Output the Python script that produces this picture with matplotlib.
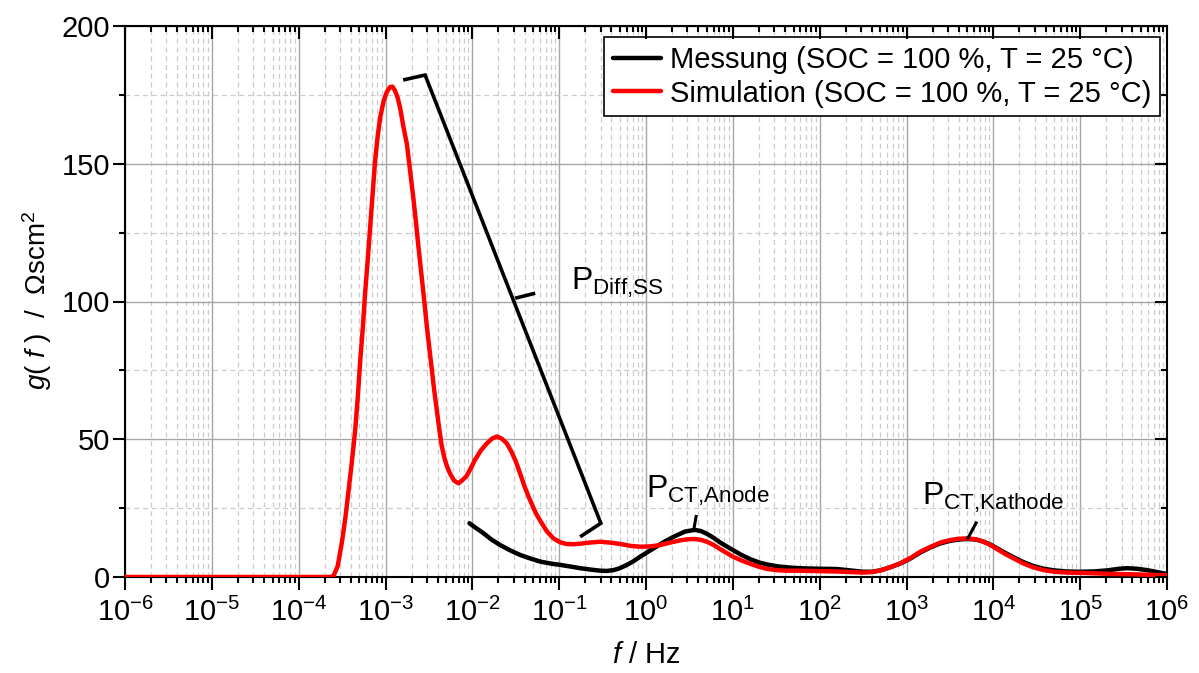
import numpy as np
import matplotlib
matplotlib.use('Agg')
import matplotlib.pyplot as plt
from matplotlib.ticker import LogLocator, MultipleLocator, NullFormatter, LogFormatterMathtext

# ---------------- data ----------------
# frequencies are given as log10(f / Hz)
sim_log_f = [-6.0, -4.5, -3.65, -3.60, -3.55, -3.50, -3.46, -3.43, -3.39, -3.35,
             -3.32, -3.29, -3.26, -3.235, -3.205, -3.177, -3.15, -3.12, -3.09, -3.06,
             -3.02, -2.985, -2.95, -2.92, -2.89, -2.86, -2.83, -2.794, -2.753, -2.717,
             -2.679, -2.65, -2.621, -2.59, -2.563, -2.524, -2.495, -2.467, -2.44, -2.409,
             -2.38, -2.352, -2.32, -2.29, -2.256, -2.21, -2.16, -2.12, -2.07, -2.025,
             -1.97, -1.90, -1.833, -1.77, -1.718, -1.66, -1.603, -1.55, -1.50, -1.449,
             -1.40, -1.35, -1.295, -1.257, -1.20, -1.14, -1.065, -0.988, -0.92, -0.834,
             -0.75, -0.65, -0.528, -0.42, -0.297, -0.18, -0.066, 0.05, 0.164, 0.28,
             0.394, 0.48, 0.56, 0.63, 0.70, 0.78, 0.85, 0.93, 1.0, 1.1,
             1.2, 1.3, 1.4, 1.5, 1.6, 1.75, 1.9, 2.05, 2.2, 2.35,
             2.5, 2.6, 2.7, 2.8, 2.93, 3.05, 3.16, 3.28, 3.39, 3.5,
             3.6, 3.70, 3.8, 3.88, 3.965, 4.05, 4.14, 4.23, 4.34, 4.46,
             4.58, 4.70, 4.85, 5.0, 5.2, 5.38, 5.6, 5.8, 6.0]
sim_g = [0, 0, 0, 0.3, 4, 13, 22, 30, 41, 53,
         65, 79, 91, 103, 115, 127, 139, 151, 160, 167,
         173, 176, 177.8, 178, 176.5, 174, 170, 163.5, 157, 147.5,
         137.5, 129, 120, 111, 103, 91, 83, 75, 68, 60.5,
         53.5, 47.5, 43, 40, 37.5, 35, 34, 35, 36.5, 39,
         42.5, 46, 48.5, 50.3, 51, 50.2, 48.5, 45.5, 42, 37.5,
         33, 29, 25, 22.5, 19.5, 16.5, 14, 12.6, 12, 11.9,
         12.1, 12.5, 12.8, 12.5, 12.0, 11.3, 11.0, 11.1, 11.6, 12.5,
         13.3, 13.7, 13.8, 13.5, 12.8, 11.6, 10.2, 8.7, 7.4, 6.0,
         4.8, 3.7, 2.9, 2.5, 2.3, 2.3, 2.2, 2.1, 2.0, 1.8,
         1.6, 1.8, 2.4, 3.4, 5.0, 7.0, 9.2, 11.0, 12.5, 13.4,
         13.9, 14.0, 13.7, 12.9, 11.6, 10.0, 8.3, 6.8, 5.0, 3.5,
         2.5, 1.9, 1.6, 1.5, 1.3, 1.1, 1.0, 0.8, 0.6]

meas_log_f = [-2.033, -1.95, -1.872, -1.78, -1.68, -1.56, -1.449, -1.33, -1.219, -1.10,
              -0.988, -0.87, -0.758, -0.64, -0.528, -0.45, -0.374, -0.30, -0.22, -0.14,
              -0.066, 0.01, 0.088, 0.2, 0.318, 0.45, 0.56, 0.63, 0.70, 0.78,
              0.85, 0.93, 1.0, 1.1, 1.2, 1.3, 1.4, 1.53, 1.7, 1.85,
              2.0, 2.2, 2.35, 2.5, 2.6, 2.7, 2.8, 2.93, 3.05, 3.16,
              3.28, 3.39, 3.5, 3.6, 3.70, 3.8, 3.88, 3.965, 4.05, 4.14,
              4.23, 4.34, 4.46, 4.58, 4.70, 4.85, 5.0, 5.15, 5.31, 5.45,
              5.54, 5.65, 5.77, 5.9, 6.0]
meas_g = [19.5, 17.6, 15.9, 13.6, 11.6, 9.6, 8.0, 6.7, 5.6, 4.9,
          4.4, 3.8, 3.2, 2.7, 2.3, 2.2, 2.5, 3.2, 4.4, 5.8,
          7.4, 8.9, 10.4, 12.6, 14.6, 16.5, 17.1, 16.7, 15.7, 14.2,
          12.6, 11.1, 9.8, 8.0, 6.5, 5.3, 4.5, 3.8, 3.3, 3.1,
          3.0, 2.9, 2.4, 1.9, 1.9, 2.4, 3.4, 4.9, 6.8, 8.9,
          10.8, 12.2, 13.1, 13.6, 13.8, 13.6, 12.9, 11.8, 10.3, 8.7,
          7.2, 5.5, 4.0, 3.0, 2.4, 2.0, 1.9, 2.0, 2.4, 3.0,
          3.2, 3.0, 2.5, 1.7, 1.1]

legend_labels = ['Messung (SOC = 100 %, T = 25 °C)',
                 'Simulation (SOC = 100 %, T = 25 °C)']

# annotation geometry (log10 f, g)
bracket_log_f = [-2.797, -2.544, -0.52, -0.758]
bracket_g = [180.4, 182.2, 19.5, 14.6]
brace_tip_log_f = [-1.507, -1.276]
brace_tip_g = [101.2, 103.0]
anode_ptr_log_f = [0.58, 0.55]
anode_ptr_g = [22.5, 17.1]
kath_ptr_log_f = [3.81, 3.70]
kath_ptr_g = [20.1, 13.7]
peak_labels = [r'P$_{\mathrm{Diff{,}SS}}$', r'P$_{\mathrm{CT{,}Anode}}$',
               r'P$_{\mathrm{CT{,}Kathode}}$']
peak_label_log_f = [-0.862, 0.0, 3.18]
peak_label_g = [104.2, 28.7, 26.1]

# ---------------- style ----------------
plt.rcParams['font.family'] = ['Liberation Sans', 'DejaVu Sans']
plt.rcParams['mathtext.fontset'] = 'custom'
plt.rcParams['mathtext.rm'] = 'Liberation Sans'
plt.rcParams['mathtext.it'] = 'Liberation Sans:italic'
plt.rcParams['mathtext.bf'] = 'Liberation Sans:bold'
plt.rcParams['mathtext.sf'] = 'Liberation Sans'
plt.rcParams['axes.unicode_minus'] = True

FS = 21

fig = plt.figure(figsize=(11.99, 6.73), dpi=100)
L, R, B, T = 125 / 1199, 1167 / 1199, 1 - 577 / 673, 1 - 26 / 673
ax = fig.add_axes([L, B, R - L, T - B])

def setup_x(a):
    a.set_xscale('log')
    a.set_xlim(1e-6, 1e6)
    a.xaxis.set_major_locator(LogLocator(base=10, numticks=30))
    a.xaxis.set_minor_locator(LogLocator(base=10, subs=np.arange(2, 10), numticks=30))
    a.xaxis.set_minor_formatter(NullFormatter())

def setup_y(a):
    a.set_ylim(0, 200)
    a.yaxis.set_major_locator(MultipleLocator(50))
    a.yaxis.set_minor_locator(MultipleLocator(25))

setup_x(ax)
setup_y(ax)
ax.xaxis.set_major_formatter(LogFormatterMathtext())
ax.grid(which='major', color='#a6a6a6', lw=1.0, ls='-')
ax.grid(which='minor', color='#cccccc', lw=0.9, ls=(0, (4, 3)))
ax.set_axisbelow(True)
ax.tick_params(which='both', direction='out', top=False, right=False, width=1.5,
               labelsize=FS)
ax.tick_params(which='major', length=9)
ax.tick_params(which='minor', length=4.5)
ax.tick_params(axis='y', pad=1.5)
ax.tick_params(axis='x', pad=6)
for s in ax.spines.values():
    s.set_linewidth(1.5)

# top / right inward ticks
axt = ax.twiny()
setup_x(axt)
axt.tick_params(which='both', direction='in', top=True, bottom=False,
                labeltop=False, labelbottom=False, width=1.5)
axt.tick_params(which='major', length=9)
axt.tick_params(which='minor', length=4.5)
axr = ax.twinx()
setup_y(axr)
axr.tick_params(which='both', direction='in', right=True, left=False,
                labelright=False, labelleft=False, width=1.5)
axr.tick_params(which='major', length=9)
axr.tick_params(which='minor', length=4.5)
for a in (axt, axr):
    for s in a.spines.values():
        s.set_visible(False)
    a.patch.set_visible(False)

# curves
meas_f = np.power(10.0, meas_log_f)
sim_f = np.power(10.0, sim_log_f)
l1, = ax.plot(meas_f, meas_g, color='black', lw=3.2, solid_capstyle='round',
              solid_joinstyle='round', zorder=3, label=legend_labels[0])
l2, = ax.plot(sim_f, sim_g, color='#ff0000', lw=3.2, solid_capstyle='round',
              solid_joinstyle='round', zorder=4, label=legend_labels[1])

# bracket and pointers
ax.plot(np.power(10.0, bracket_log_f), bracket_g, color='black', lw=2.6,
        solid_joinstyle='miter', solid_capstyle='butt', zorder=5)
ax.plot(np.power(10.0, brace_tip_log_f), brace_tip_g, color='black', lw=2.6,
        solid_capstyle='butt', zorder=5)
ax.plot(np.power(10.0, anode_ptr_log_f), anode_ptr_g, color='black', lw=2.2,
        solid_capstyle='butt', zorder=5)
ax.plot(np.power(10.0, kath_ptr_log_f), kath_ptr_g, color='black', lw=2.2,
        solid_capstyle='butt', zorder=5)
for txt, lf, gv in zip(peak_labels, peak_label_log_f, peak_label_g):
    ax.text(10.0 ** lf, gv, txt, fontsize=23, ha='left', va='baseline', zorder=6)

leg = ax.legend(handles=[l1, l2], loc='upper right', bbox_to_anchor=(0.9933, 0.980),
                borderaxespad=0, fontsize=FS, frameon=True, fancybox=False,
                edgecolor='black', framealpha=1, handlelength=1.65, handletextpad=0.3,
                borderpad=0.3, labelspacing=0.2)
leg.get_frame().set_linewidth(1.2)
leg.set_zorder(10)

fig.text(646 / 1199, 1 - 655 / 673, r'$f$ / Hz', fontsize=FS, ha='center', va='center')
fig.text(37 / 1199, 1 - 300 / 673, r'$g$( $f$ )  /  Ωscm$^2$', fontsize=20,
         rotation=90, ha='center', va='center')

fig.savefig('out.png', dpi=100)
